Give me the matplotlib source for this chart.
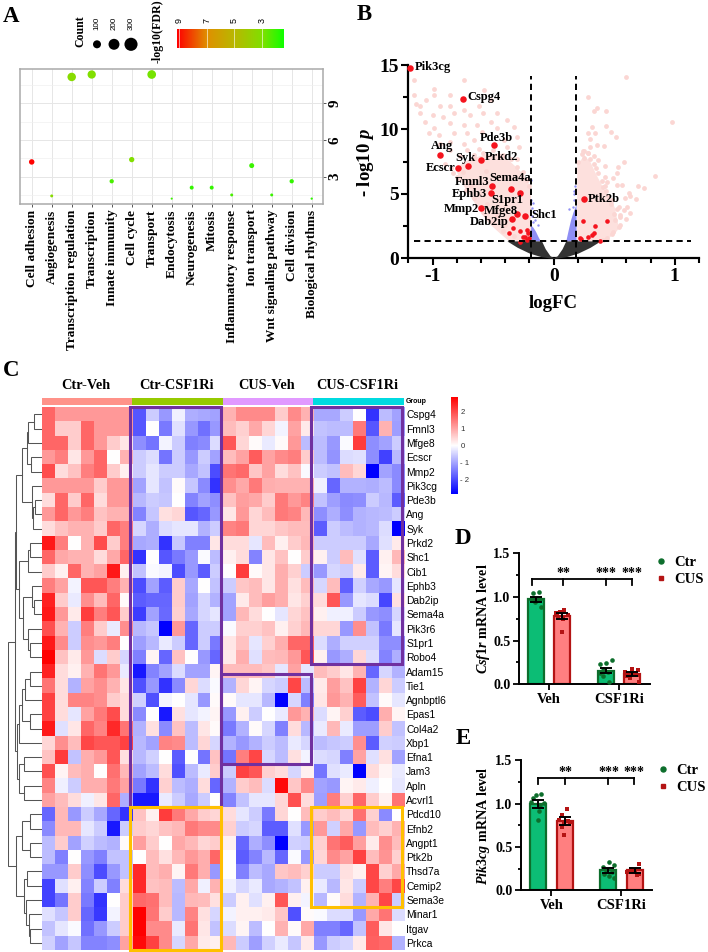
import numpy as np
import matplotlib
matplotlib.use('Agg')
import matplotlib.pyplot as plt
from matplotlib.colors import LinearSegmentedColormap
from matplotlib.patches import Rectangle
from matplotlib.lines import Line2D

plt.rcParams['font.family'] = ['Liberation Serif', 'DejaVu Sans']
plt.rcParams['font.weight'] = 'bold'
plt.rcParams['mathtext.fontset'] = 'custom'
plt.rcParams['mathtext.it'] = 'Liberation Serif:italic:bold'
plt.rcParams['mathtext.rm'] = 'Liberation Serif:bold'

W, H = 708, 952
fig = plt.figure(figsize=(W / 100, H / 100), dpi=100)

# ---------------- Panel A data
go_terms = ['Cell adhesion', 'Angiogenesis', 'Transcription regulation', 'Transcription',
            'Innate immunity', 'Cell cycle', 'Transport', 'Endocytosis', 'Neurogenesis',
            'Mitosis', 'Inflammatory response', 'Ion transport', 'Wnt signaling pathway',
            'Cell division', 'Biological rhythms']
go_enrich = [4.2, 1.42, 11.15, 11.35, 2.62, 4.39, 11.35, 1.2, 2.1, 2.1, 1.5, 3.9, 1.5, 2.62, 1.2]
go_count = [43, 11, 114, 108, 25, 40, 120, 5, 21, 21, 11, 35, 11, 25, 6]
go_fdr = [9.1, 3.2, 3.2, 3.0, 2.2, 3.0, 2.8, 2.0, 1.9, 1.9, 2.2, 2.0, 2.0, 1.9, 1.8]
legend_counts = [100, 200, 300]
fdr_ticks = [9, 7, 5, 3]

# ---------------- Panel B data
pink_left_x = [-1.157, -1.157, -.99, -.744, -.578, -.854, -.99, -1.14, -1.05, -1.1, -.94, -.854, -.744, -.62, -.52,
               -1.1, -1.0, -.91, -.826, -.69, -.58, -.47, -1.06, -.99, -.854, -.744, -.634, -.52, -.386, -1.03,
               -.95, -.826, -.716, -.592, -.47, -.33, -.94, -.854, -.744, -.66, -.413, -.3, -.854, -.716, -.62,
               -.386, -.29, -.77, -.66, -.9, -.83, -.78, -.68, -.56, -.44,
               -.85, -.8, -.72, -.66, -.58, -.5, -.42, -.75, -.7, -.62, -.55, -.47, -.4, -.33, -.3, -.25, -.22, -.2,
               -.35, -.42, -.5, -.58, -.66, -.3]
pink_left_y = [13.84, 12.68, 13.1, 13.84, 13.07, 12.7, 12.7, 12.0, 12.3, 11.8, 11.8, 11.8, 11.5, 11.8, 12.3,
               11.25, 11.1, 11.0, 11.25, 11.1, 11.25, 11.25, 10.6, 10.1, 10.5, 10.35, 10.35, 10.6, 10.7, 9.7,
               9.6, 9.7, 9.7, 9.83, 10.1, 10.2, 8.9, 9.05, 8.9, 9.2, 9.2, 9.4, 8.4, 8.4, 8.5,
               8.67, 8.67, 7.9, 7.76, 7.3, 6.6, 6.2, 5.6, 6.8, 7.9,
               7.0, 6.3, 5.3, 4.7, 3.6, 2.8, 2.1, 6.7, 6.0, 5.0, 4.2, 3.3, 2.6, 1.7, 7.1, 6.7, 6.1, 5.6,
               7.7, 8.0, 8.4, 8.2, 8.0, 7.7]
pink_right_x = [.6, .283, .358, .33, .43, .976, .435, .32, .28, .339, .476, .514, .303, .358, .413, .303, .239,
                .284, .33, .248, .37, .426, .578, .528, .52, .839, .49, .42, .44, .699, .743, .52, .564, .41,
                .619, .633, .682, .592, .536, .605, .633, .55, .578, .509, .6, .536, .487,
                .2, .23, .28, .33, .37, .4, .43, .48, .52, .55, .45, .5, .47, .42, .35, .3, .25, .55, .48, .44, .41]
pink_right_y = [14.05, 12.5, 11.64, 11.4, 11.4, 10.6, 10.3, 10.2, 9.7, 9.7, 9.83, 9.4, 9.26, 8.8, 8.7, 8.6, 8.36,
                8.15, 7.9, 7.76, 7.6, 7.17, 7.45, 7.06, 6.6, 6.4, 6.26, 6.34, 5.95, 5.6, 5.43, 5.7, 5.7, 5.56,
                5.05, 4.84, 4.58, 4.66, 4.0, 4.0, 3.5, 3.36, 3.75, 3.0, 3.03, 2.46, 2.07,
                7.5, 8.1, 8.2, 7.3, 6.6, 6.0, 5.2, 4.5, 3.8, 3.2, 4.8, 3.4, 4.2, 5.6, 7.0, 7.7, 8.3, 2.6, 1.9, 1.6, 1.45]
band_left_x = [-.81, -.75, -.67, -.6, -.536, -.45, -.37, -.3, -.25, -.19]
band_left_lo = [6.86, 5.7, 4.53, 3.5, 2.72, 2.0, 1.35, 1.35, 1.35, 1.35]
band_left_hi = [6.86, 7.5, 7.8, 8.0, 8.1, 8.2, 7.6, 7.0, 6.5, 5.5]
band_right_x = [.19, .25, .30, .35, .40, .45, .50, .53]
band_right_lo = [1.35, 1.35, 1.35, 1.35, 1.35, 1.6, 1.95, 2.3]
band_right_hi = [7.3, 8.0, 7.5, 6.5, 5.6, 4.8, 4.0, 2.6]
blue_left_x = [-.19, -.17, -.15, -.13, -.11]
blue_left_hi = [2.6, 2.4, 2.1, 1.7, 1.35]
blue_right_x = [.10, .12, .14, .16, .185]
blue_right_hi = [1.35, 2.2, 3.0, 3.6, 4.2]
blue_pts_x = [-.19, -.17, -.18, -.16, -.18, -.15, -.17, -.13, -.19, .175, .17, .17, .13, .17, .16]
blue_pts_y = [4.5, 4.3, 3.9, 3.6, 3.3, 3.0, 2.8, 2.6, 6.1, 5.6, 5.2, 5.0, 3.8, 4.5, 4.0]
funnel_x = [-.386, -.3, -.2, -.1, -.07, -.03, 0, .03, .07, .1, .2, .3, .386]
funnel_lo = [1.35, .85, .4, .12, .08, .02, 0, .02, .08, .12, .4, .85, 1.35]
funnel_hi = [1.35, 1.35, 1.35, 1.35, .75, .2, .05, .2, .75, 1.35, 1.35, 1.35, 1.35]
gene_names = ['Pik3cg', 'Cspg4', 'Pde3b', 'Ang', 'Syk', 'Prkd2', 'Ecscr', 'Fmnl3', 'Sema4a', 'Ephb3', 'S1pr1',
              'Mmp2', 'Mfge8', 'Dab2ip', 'Shc1', 'Ptk2b']
gene_fc = [-1.185, -.75, -.49, -.94, -.71, -.6, -.79, -.51, -.35, -.52, -.275, -.6, -.3, -.34, -.235, .25]
gene_p = [14.8, 12.35, 8.8, 8.0, 7.15, 7.65, 7.0, 5.6, 5.4, 5.05, 5.05, 3.9, 3.4, 3.05, 3.3, 4.62]
gene_lab_x = [-1.149, -.71, -.606, -1.014, -.815, -.565, -1.055, -.815, -.534, -.84, -.518, -.909, -.578, -.694, -.182, .284]
gene_lab_y = [14.88, 12.55, 9.37, 8.72, 7.81, 7.89, 7.0, 5.9, 6.23, 5.02, 4.53, 3.83, 3.7, 2.85, 3.36, 4.63]
red_x = [-.338, -.275, -.37, -.22, -.212, -.234, -.25, -.275, -.22, -.2, .239, .44, .34, .215, .225, .28, .316, .336, .38]
red_y = [2.33, 2.15, 1.94, 2.2, 1.94, 1.68, 1.63, 1.24, 1.42, 1.55, 2.87, 2.87, 2.51, 1.55, 1.47, 1.63, 1.81, 1.99, 1.35]

# ---------------- Panel C data
row_genes = ['Cspg4', 'Fmnl3', 'Mfge8', 'Ecscr', 'Mmp2', 'Pik3cg', 'Pde3b', 'Ang', 'Syk', 'Prkd2', 'Shc1', 'Cib1',
             'Ephb3', 'Dab2ip', 'Sema4a', 'Pik3r6', 'S1pr1', 'Robo4', 'Adam15', 'Tie1', 'Agnbptl6', 'Epas1',
             'Col4a2', 'Xbp1', 'Efna1', 'Jam3', 'Apln', 'Acvrl1', 'Pdcd10', 'Efnb2', 'Angpt1', 'Ptk2b', 'Thsd7a',
             'Cemip2', 'Sema3e', 'Minar1', 'Itgav', 'Prkca']
group_names = ['Ctr-Veh', 'Ctr-CSF1Ri', 'CUS-Veh', 'CUS-CSF1Ri']
group_colors = ['#ff9289', '#96ca00', '#e199ff', '#00dae0']
ctr_veh = [
 [3,2,2,2,2,2,2],[3,1,1,3,2,2,2],[3,3,1,3,2,1,.5],[2,2.5,.5,2,3,0,1.5],[3.5,.7,1.2,2.5,3,1,.3],[2,2,2,2,1,2,2],
 [.7,3,1,3,.7,2,2],[2,3,2,2.5,1.2,1.5,1.5],[.7,1.2,1.5,1.5,1,3,2.5],[4.5,2.5,0,1.5,3.5,1,2.5],[3,1.7,1.5,1.5,.7,1.7,3],
 [1,.3,3,1.5,1.8,4.5,.3],[2.5,1.8,-.2,3.3,3.3,2.5,1.5],[4.3,1,-.4,2.2,1.3,3,.1],[4.5,2,.4,3.8,2.5,3.3,1],
 [3.4,1.5,-1,2.5,1,-.4,2.2],[4.5,2.3,-1,2.2,2,2.5,0],[5,1.2,.4,2,-.7,1,-.8],[4.3,.7,.3,1.5,2.7,2,-.4],
 [2.7,.7,-1.5,1.8,2.2,1.5,.5],[3.7,.7,2.4,2.4,2.2,1,.7],[3.7,.7,-.5,1.8,2.6,3.5,.7],[4.5,-.6,.5,3,2.4,4.2,2.7],
 [.8,2.2,1.3,3.6,3.3,3.3,3.7],[1.2,3.8,-1.2,1.6,2,3.3,.6],[3.4,.2,1.3,1.6,0,2.8,1.4],[2.4,-.3,-1,1.6,1.6,2.6,1.8],
 [1.8,1.3,.7,-.3,.5,3,-1.6],[-3,1.4,-2,-1,-1.7,-3,-4],[-2.3,1.4,1.4,-.5,-1,-4.5,-1],[-1.3,1,-1.8,-.9,-1.3,-1.5,.1],
 [-1.3,-2.5,0,-2,-2.5,-1.2,-1.2],[-2,-2,1,-2.2,-3.5,-2,-1.2],[-3.7,-.6,.3,-2.4,-1,-2.5,.7],[-3.7,-2.7,1,-2.6,-4,0,1],
 [-.6,-1.1,1,-3,-3.9,-.2,1],[-1.2,-.5,-.1,-2.8,-2,-1,1],[-.9,-1.8,-1.1,-2.4,-2.4,-2.2,1.8]]
ctr_csf1ri = [
 [-3.3,-1,-2,-.3,-1.6,-1.7,-1.8],[-3.3,0,-2.6,-.6,-2,-2.8,-2],[-2.2,-2.7,-.2,-1,-2.5,-2.3,-.7],[-1,-.7,-2.7,-1,-2,-1,-1.8],
 [-1,-.5,-1,-1,-1.7,-1.2,-3.5],[-1.8,-.5,-1.2,.1,-1.1,-2.3,-4],[-1.4,-1,-1.1,0,-2.4,-1.8,-2.2],[-2.4,-1.1,.6,.8,-3.3,-3,-2],
 [-.8,-1.6,-.7,-.5,-.5,-1.5,-1],[-1.7,-1.6,-4,-1.1,-2.5,-2.5,.5],[-4,0,-3.3,-2.6,-2,-.1,-1.3],[-1.2,-.1,-.2,-3.5,-2,-3.2,-1],
 [-3.5,-1.8,-3.2,1,-1.7,0,-1.2],[-3.2,-3,-3,1,-1.8,-.8,-1.5],[-3.8,-1.8,-2.9,.9,-1.7,-.8,-.5],[-1.4,-1.1,-5,2,-3,-1,-1],
 [-1.9,-1.4,-.4,-1,-3,-1,-2.6],[-2.5,.2,-3,1.2,0,-2,-3],[-4.5,-2.4,-1.8,-.7,-1.8,-1.8,.2],[-3.4,-2,-4,-2.3,.8,-.7,-.1],
 [-.9,-3.4,-.2,0,-.5,-2,.1],[-2.3,0,-4.5,.6,-.5,-.2,.2],[-1.5,.6,-2.3,1.2,-1.3,.5,.1],[-1.4,-1.8,2.4,2.3,-1.3,.8,-.8],
 [-1.4,-.9,0,-3.2,0,-2.7,1.2],[-1.8,-1.3,.7,-3.4,-1.3,-.4,1],[-2.6,-4,.9,-1.3,-1.6,.7,-3],[-4.5,-4.5,-.4,-1,-1.7,-1,0],
 [1.2,.3,3.8,2.6,1.7,1,.8],[1,.8,1.2,1.4,2.6,2.3,2.3],[1.9,1,0,1.7,1.4,.8,1],[0,1.3,.6,1.4,2,1.6,3],
 [4.2,1.3,1.6,.2,2.6,1.6,-2],[4.2,1.2,1.3,-1.3,1.7,-.3,1.5],[2.9,2.8,1.3,-1.4,1.4,1.3,.6],[5,2.7,1,-1.4,2.4,.6,-.8],
 [5,2.3,2.3,-.4,2.7,.5,-1.2],[4.8,3.7,2.3,-.8,1.7,.4,.3]]
cus_veh = [
 [1.5,2.3,2.3,2.3,1,2.3,1.5],[1.3,.9,1.7,.8,-.2,1.8,.4],[3.3,.8,.1,-.4,.1,2,-1.3],[1.3,1.8,3.2,1.8,2.3,2.5,1],
 [2.7,2.9,1.1,1.8,.7,1.2,-.1],[2.2,1.7,2.6,1.6,1.5,1.5,1.5],[1.2,1.9,1.7,1,2.6,2,2.4],[.5,2,.8,1.3,2.6,2.4,1.4],
 [2.4,2.6,.8,.8,1.1,1.3,1.3],[.7,.7,-.5,1.3,.3,1,1.4],[.3,.7,-2.4,.5,1.2,0,1],[0,3.8,.1,.5,1.6,.9,-1],
 [-1,1.1,1.3,.5,1.6,.6,1.3],[-1.8,.4,1.3,1.9,1.6,.5,.9],[-1.8,1.4,.7,0,-.5,.8,1.2],[-.1,.9,.9,1.2,.3,.9,1.4],
 [.5,1.2,-.5,.9,1.6,3,3],[.4,1.6,-.6,1.3,1.4,2,3.3],[1.3,1.3,1.3,1.1,-.5,1.8,-.5],[-1.5,.8,.2,-.8,-1,3.6,-1.3],
 [.1,-.5,-.5,-1.4,-5,-.8,-2.5],[-2,.3,-1,0,-.4,2,1.5],[-2.6,-1.5,.1,-.8,-2.5,.7,-1.4],[-1.5,-2,-1.5,-1,-1.3,-.4,-.8],
 [-2.7,2.5,3.6,-.8,-1.3,.6,-.2],[-1,3.7,3.3,.9,.7,-.8,.3],[-1.5,1,1.3,-.7,4.8,1.1,2.3],[-2.4,-1.2,-.5,-.5,.8,3.4,.7],
 [.7,-.5,-1,-2.6,.8,0,1.3],[.9,-1,-.8,-3.2,-3.2,-.6,-2],[.3,-3,-1.6,-2.2,-5,-.9,-1],[0,-3.2,-2.4,-1.4,-3,-.1,-2],
 [0,-2.5,-1.3,-1.7,1.1,1.3,.9],[-.3,-.8,-.4,-1.7,-1.5,-1.2,.3],[-1,.3,-.6,.3,3.3,.3,-.2],[-.2,.3,.3,.4,1.1,-3.4,.1],
 [-.7,.2,-1.3,0,1.5,.1,1.7],[1.4,-1,-1.9,-.9,-.4,-1.1,.4]]
cus_csf1ri = [
 [-1.7,-1.7,-1,0,-4,-1.3,-1.8],[-1.2,-1.3,-1.3,2.6,-3.3,1.5,-1.9],[-1.3,-2,-.1,3.8,-2.2,-1.8,-1],[-1.3,-2.1,-.7,-.6,-2.2,-3.7,-1.4],
 [-1,-1.2,1.3,.8,-5,-1.8,-2.3],[-.3,-3,-1.5,-1.5,-1.6,-1.3,-2.3],[-1.2,-1.9,-2.3,-2.2,-1,-1.4,-3.2],[-2.2,-1.6,-2.2,-1.5,-1.4,-1.3,-1],
 [-3.2,-1,-1.3,-1.5,-1.4,-.7,-5],[-1,-1,-1,-1,-1.7,-.6,.4],[.3,-1,1.3,-.6,-3.2,.3,1.4],[-2,-.8,-1,.4,-3.2,.2,.7],
 [-.8,1.3,-3.1,-.9,-1.7,-2,-.5],[.7,3.3,-2,-.5,-.7,-3.6,.6],[.3,-.3,-.3,-1,-2,-2.2,-.8],[.8,.8,-2,2.2,-1.2,-2.6,-.5],
 [-.7,-1.6,-.9,-.9,-.9,-2.2,-2.2],[.3,-2,-1.6,.8,-.7,-2.4,-1.6],[1.3,1,.5,1.5,-3,-.8,-1.5],[.4,1.9,1.2,3.7,-1.5,.8,-1],
 [.5,2,1.5,3.2,-1.2,.1,-.5],[-.7,.2,.9,-3.2,-3.5,1.6,.2],[-.4,1.4,-.4,-1.9,-1.9,1,-1.2],[-1.3,-1.1,-1,2.2,-3.2,-.9,-1],
 [-.7,-.8,-2.5,1.8,-.6,.6,-1.8],[-2.7,-.6,-.4,-5,.7,.2,-.4],[-1.8,-2,.2,.4,-.3,0,-.5],[-1.9,2.5,.9,3,1,.3,2.7],
 [1,1.3,.8,2.8,.9,-2.3,0],[2,-.9,1.7,-2,1.3,.9,1.5],[.9,2.7,3.2,1.9,.4,2.2,1.3],[.8,2.3,1.8,3.7,1.3,2.1,.9],
 [-1,-1,.6,.3,3.6,.9,1.7],[-.4,-1.4,.5,-1,3.6,2.5,3.6],[-1.4,.1,.7,-1.5,1.5,3.6,-1],[-.1,-.7,-.7,-2,1.7,2.7,-.7],
 [-2.5,-2.5,-3,-1.2,3.2,.5,0],[-2,-1,-.8,.4,3.1,2.9,-1.5]]
# dendrogram: (left, right, merge height), leaves are row numbers
row_tree = (
 (((((((0, 1, 22), 2, 40), (3, 4, 32), 45), (5, ((6, 7, 20), 8, 27), 30), 60),
    (((9, 10, 35), 11, 42), ((12, (13, 14, 22), 30), (15, (16, 17, 35), 42), 55), 68), 77)),
  (((((18, 19, 35), 20, 50), (21, 22, 35), 60), 23, 67), ((24, 25, 53), (26, 27, 53), 67), 73), 80),
 (((28, 29, 35), (30, 31, 35), 60), ((32, 33, 45), (34, (35, (36, 37, 35), 38), 48), 52), 77), 100)
# highlight boxes: first column, last column (exclusive), first row, last row (exclusive), colour
boxes = [(7, 14, 0, 28, '#7030a0'), (21, 28, 0, 18, '#7030a0'), (14, 21, 19, 25, '#7030a0'),
         (7, 14, 28, 38, '#ffc000'), (21, 28, 28, 35, '#ffc000')]

# ---------------- Panels D / E data
bar_pos = [0, 1, 2.66, 3.66]
cond_ticks = [.5, 3.16]
cond_labels = ['Veh', 'CSF1Ri']
d_means = [.97, .78, .156, .118]
d_sem = [.025, .035, .03, .02]
d_off = [[-.13, .1, -.2, .03, -.04, .19, .15, -.1], [-.24, .06, -.09, .23, -.15, .04, -.03, -.19],
         [-.23, 0, .22, -.13, .09, -.1, .1, -.23], [-.28, 0, .23, -.22, .16, -.03, -.09, .25]]
d_pts = [[1.04, 1.055, .98, .98, .945, .887, .97, .97], [.82, .85, .83, .79, .77, .75, .6, .81],
         [.23, .24, .28, .165, .145, .095, .03, .125], [.145, .18, .165, .09, .105, .118, .07, .03]]
e_means = [1.0, .8, .23, .23]
e_sem = [.045, .05, .03, .03]
e_off = [[-.22, -.09, .1, -.29, .23, .06, .01, 0], [.08, -.09, -.22, .2, -.03, -.11, -.01, .14],
         [.01, .2, -.2, -.08, .14, -.18, .01, .23], [.15, -.14, .03, -.29, .18, -.06, -.19, .09]]
e_pts = [[1.07, 1.096, 1.115, 1.02, 1.01, .98, .915, .815], [.935, .873, .81, .79, .77, .73, .635, .8],
         [.327, .296, .27, .23, .21, .19, .165, .146], [.308, .25, .23, .21, .19, .22, .22, .173]]
star_text = ['**', '***', '***']


def axpx(l, t, r, b, **kw):
    return fig.add_axes([l / W, 1 - b / H, (r - l) / W, (b - t) / H], **kw)


def T(x, y, s, **kw):
    kw.setdefault('ha', 'left')
    kw.setdefault('va', 'center')
    return fig.text(x / W, 1 - y / H, s, **kw)


SANS = ['Liberation Sans', 'DejaVu Sans']
for letter, x, y in [('A', 3, 16), ('B', 357, 15), ('C', 3, 370), ('D', 455, 538), ('E', 456, 739)]:
    T(x, y, letter, fontsize=16.5, fontweight='bold')


# ------------------------------------------------ Panel A
def dot_size(c):
    return (8 * (np.asarray(c, float) / 100) ** 0.45 * .72) ** 2


fdr_cmap = LinearSegmentedColormap.from_list('fdr', [(0, '#10ff00'), (.2, '#80e000'), (.46, '#b8b800'),
                                                     (.72, '#e09000'), (1, '#ff0000')])
ax = axpx(20, 69, 323, 204)
ax.scatter(range(len(go_terms)), go_enrich, s=dot_size(go_count), c=go_fdr, cmap=fdr_cmap, vmin=1.4, vmax=9.15,
           linewidths=0, zorder=3)
ax.set_xlim(-.585, 14.565)
ax.set_ylim(.76, 11.8)
ax.set_xticks(range(len(go_terms)))
ax.set_xticklabels(go_terms, rotation=90, fontsize=9.6, fontweight='bold', va='top', ha='center')
ax.yaxis.tick_right()
ax.set_yticks([3, 6, 9])
ax.set_yticklabels(['3', '6', '9'], rotation=90, va='center', fontsize=11, fontweight='bold')
ax.set_yticks([1.5, 4.5, 7.5, 10.5], minor=True)
ax.tick_params(axis='y', which='minor', length=0)
ax.grid(True, which='major', color='#e6e6e6', lw=.7)
ax.grid(True, which='minor', axis='y', color='#f0f0f0', lw=.5)
ax.set_axisbelow(True)
ax.tick_params(axis='both', which='major', length=2, width=.7, color='#555555', pad=2)
for s in ax.spines.values():
    s.set_color('#aaaaaa')
    s.set_linewidth(1.1)

la = axpx(80, 34.3, 148, 54.3)
la.scatter(range(3), [0, 0, 0], s=dot_size(legend_counts), c='k', linewidths=0)
la.set_xlim(-1, 3)
la.set_ylim(-1, 1)
la.axis('off')
for i, c in enumerate(legend_counts):
    T(97 + 17 * i, 30.5, str(c), rotation=90, ha='center', va='bottom', fontsize=5.8, family=SANS, fontweight='normal')
T(80, 31, 'Count', rotation=90, ha='center', va='center', fontsize=8.5)
T(158, 31, '-log10(FDR)', rotation=90, ha='center', va='center', fontsize=8.6)

cb = axpx(177, 29, 284, 48)
cb.imshow(np.linspace(9.15, 1.4, 200)[None, :], extent=[9.15, 1.4, 0, 1], aspect='auto', cmap=fdr_cmap,
          vmin=1.4, vmax=9.15)
cb.set_xlim(9.15, 1.4)
cb.set_yticks([])
cb.xaxis.tick_top()
cb.set_xticks(fdr_ticks)
cb.set_xticklabels([str(v) for v in fdr_ticks], rotation=90, fontsize=6.5, family=SANS, fontweight='normal')
cb.tick_params(axis='x', length=0, pad=4.5)
for v in fdr_ticks:
    cb.axvline(v, color='white', lw=.6, alpha=.7)
for s in cb.spines.values():
    s.set_visible(False)

# ------------------------------------------------ Panel B
ax = axpx(408.3, 65, 699, 258.3)
ax.fill_between(band_left_x, band_left_lo, band_left_hi, color='#fde0dd', lw=0, zorder=1)
ax.fill_between(band_right_x, band_right_lo, band_right_hi, color='#fde0dd', lw=0, zorder=1)
ax.scatter(pink_left_x + pink_right_x, pink_left_y + pink_right_y, s=12, c='#fbd6d3', linewidths=0, zorder=2)
ax.fill_between(blue_left_x, 1.35, blue_left_hi, color='#8f8ff5', lw=0, zorder=2)
ax.fill_between(blue_right_x, 1.35, blue_right_hi, color='#8f8ff5', lw=0, zorder=2)
ax.scatter(blue_pts_x, blue_pts_y, s=3, c='#8f8ff5', linewidths=0, zorder=2)
ax.fill_between(funnel_x, funnel_lo, funnel_hi, color='#333333', lw=0, zorder=3)
ax.scatter(red_x, red_y, s=11, c='#f5141e', linewidths=0, zorder=4)
ax.scatter(gene_fc, gene_p, s=22, c='#f5141e', linewidths=0, zorder=5, clip_on=False)
for n, x, y in zip(gene_names, gene_lab_x, gene_lab_y):
    ax.text(x, y, n, fontsize=9, fontweight='bold', ha='left', va='center', zorder=6)
dash = dict(color='k', lw=1.4, ls=(0, (3.2, 2.2)), zorder=6)
ax.plot([-.187, -.187], [0, 14.15], **dash)
ax.plot([.187, .187], [0, 14.15], **dash)
ax.plot([-1.157, 1.13], [1.37, 1.37], **dash)
ax.set_xlim(-1.196, 1.2)
ax.set_ylim(0, 15)
ax.set_xticks([-1, 0, 1])
ax.set_xticks(np.arange(-1.2, 1.21, .2), minor=True)
ax.set_yticks([0, 5, 10, 15])
ax.set_yticks(np.arange(0, 15.1, 2.5), minor=True)
ax.tick_params(axis='both', which='major', length=5, width=1.5, labelsize=14, pad=2)
ax.tick_params(axis='both', which='minor', length=3.5, width=1.5)
ax.set_xticklabels(['-1', '0', '1'])
for s in ['top', 'right']:
    ax.spines[s].set_visible(False)
for s in ['left', 'bottom']:
    ax.spines[s].set_linewidth(1.6)
T(553, 304, 'logFC', ha='center', fontsize=13.5)
T(365, 162, r'- log10 $\mathit{p}$', rotation=90, ha='center', fontsize=13.5)

# ------------------------------------------------ Panel C
heat = np.hstack([ctr_veh, ctr_csf1ri, cus_veh, cus_csf1ri]) * .57
heat_cmap = LinearSegmentedColormap.from_list('bwr2', ['#0000ff', '#ffffff', '#ff0000'])
ax = axpx(41.7, 407.3, 404, 950)
ax.imshow(heat, aspect='auto', cmap=heat_cmap, vmin=-2.85, vmax=2.85, interpolation='nearest',
          extent=[0, 28, 38, 0])
ax.set_xticks([])
ax.yaxis.tick_right()
ax.set_yticks(np.arange(38) + .5)
ax.set_yticklabels(row_genes, fontsize=7.4, family=SANS, fontweight='normal')
ax.tick_params(axis='y', length=0, pad=1.5)
for s in ax.spines.values():
    s.set_visible(False)
for c0, c1, r0, r1, col in boxes:
    x0 = c0 - .15
    y0 = r0 - .35 if r0 == 19 else r0
    ax.add_patch(Rectangle((x0, y0), c1 - c0, r1 - y0, fill=False, ec=col, lw=2.2, clip_on=False, zorder=5))

g = axpx(41.7, 397.7, 404, 405.3)
g.bar([3.5, 10.5, 17.5, 24.5], [1] * 4, width=7, color=group_colors, linewidth=0)
g.set_xlim(0, 28)
g.set_ylim(0, 1)
g.axis('off')
for name, cx in zip(group_names, [86, 177, 266.7, 357.7]):
    T(cx, 385.7, name, ha='center', fontsize=10.3)
T(406, 401.5, 'Group', fontsize=5, family=SANS, fontweight='bold')

cbar = axpx(451, 397, 457.7, 494)
cbar.imshow(np.linspace(2.85, -2.85, 200)[:, None], extent=[0, 1, -2.87, 2.84], aspect='auto', cmap=heat_cmap,
            vmin=-2.85, vmax=2.85)
cbar.set_xticks([])
cbar.yaxis.tick_right()
cbar.set_yticks([-2, -1, 0, 1, 2])
cbar.set_yticklabels(['- 2', '- 1', '0', '1', '2'], fontsize=5.6, family=SANS, fontweight='normal', color='#333333')
cbar.tick_params(axis='y', length=0, pad=2)
for s in cbar.spines.values():
    s.set_visible(False)

den = axpx(8, 407.3, 41.7, 950)


def draw_tree(node):
    if not isinstance(node, tuple):
        return node + .5, 0
    if len(node) == 1:
        return draw_tree(node[0])
    a, b, h = node
    ya, ha_ = draw_tree(a)
    yb, hb = draw_tree(b)
    den.plot([ha_, h, h, hb], [ya, ya, yb, yb], color='#555555', lw=.75, solid_joinstyle='miter')
    return (ya + yb) / 2, h


draw_tree(row_tree)
den.set_xlim(101, 0)
den.set_ylim(38, 0)
den.axis('off')


# ------------------------------------------------ Panels D, E
def bars(box, xlim, means, sem, offs, pts, ylabel, br_y, br_b, br_x, star_y, ylab_x, leg_anchor):
    ax = axpx(*box)
    fills = ['#0cbd75', '#ff7f80', '#0cbd75', '#ff7f80']
    edges = ['#0d6e2c', '#b41414', '#0d6e2c', '#b41414']
    ax.bar(bar_pos, means, width=.6, color=fills, edgecolor=edges, linewidth=1.6, zorder=2)
    for i, p in enumerate(bar_pos):
        ax.scatter(p + np.array(offs[i]), pts[i], s=11, c=edges[i], marker='o' if i % 2 == 0 else 's',
                   linewidths=0, zorder=3)
        ax.errorbar(p, means[i], yerr=sem[i], color='k', capsize=4.2, capthick=1.4, elinewidth=1.4, zorder=4)
    ax.plot(br_x[0:1] * 2, [br_b, br_y], color='k', lw=1.3)
    ax.plot([br_x[0], br_x[-1]], [br_y, br_y], color='k', lw=1.3)
    for xx, st in zip(br_x[1:], star_text):
        ax.plot([xx, xx], [br_b, br_y], color='k', lw=1.3)
        ax.text(xx + .02, star_y, st, ha='center', va='center', fontsize=10, fontweight='bold')
    ax.set_xlim(*xlim)
    ax.set_ylim(0, 1.5)
    ax.set_xticks(cond_ticks)
    ax.set_xticklabels(cond_labels, fontsize=10.5)
    ax.set_yticks([0, .5, 1, 1.5])
    ax.set_yticklabels(['0.0', '0.5', '1.0', '1.5'], fontsize=10)
    ax.set_yticks([.25, .75, 1.25], minor=True)
    ax.tick_params(axis='both', which='major', length=4, width=1.3, pad=2)
    ax.tick_params(axis='y', which='minor', length=2.5, width=1.3)
    for s in ['top', 'right']:
        ax.spines[s].set_visible(False)
    for s in ['left', 'bottom']:
        ax.spines[s].set_linewidth(1.4)
    h = [Line2D([], [], ls='', marker='o', ms=3.6, color='#0d6e2c', label='Ctr'),
         Line2D([], [], ls='', marker='s', ms=3.4, color='#b41414', label='CUS')]
    ax.legend(handles=h, loc='upper left', bbox_to_anchor=leg_anchor, frameon=False, fontsize=10.5,
              handlelength=.6, handletextpad=.6, labelspacing=.25, borderpad=0, borderaxespad=0)
    T(ylab_x, (box[1] + box[3]) / 2, ylabel, rotation=90, ha='center', fontsize=10.2)


bars((519, 553, 650, 684.3), (-.646, 4.33), d_means, d_sem, d_off, d_pts, r'$\mathit{Csf1r}$ mRNA level',
     1.207, 1.14, [-.16, 1.01, 2.65, 3.63], 1.27, 483.5, (1.05, .977))
bars((521, 760.3, 652.3, 890.3), (-.657, 4.33), e_means, e_sem, e_off, e_pts, r'$\mathit{Pik3cg}$ mRNA level',
     1.3, 1.23, [-.03, 1.01, 2.65, 3.63], 1.36, 484, (1.049, .972))

fig.savefig('out.png', dpi=100)
